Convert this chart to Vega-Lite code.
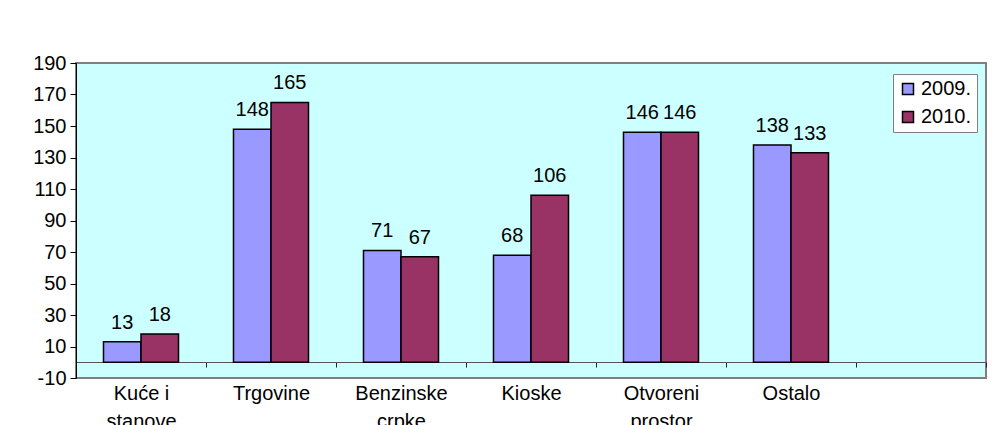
{
  "$schema": "https://vega.github.io/schema/vega-lite/v6.json",
  "autosize": {"type": "none"},
  "width": 910,
  "height": 315,
  "padding": {"left": 76, "top": 63, "right": 13, "bottom": 47},
  "background": "white",
  "config": {
    "font": "Liberation Sans",
    "view": {"fill": "#CCFFFF", "stroke": "#808080", "strokeWidth": 2},
    "axis": {"labelFont": "Liberation Sans", "labelColor": "black", "grid": false, "title": null}
  },
  "data": {
    "values": [
      {"cat": "Kuće i stanove", "year": "2009.", "value": 13},
      {"cat": "Kuće i stanove", "year": "2010.", "value": 18},
      {"cat": "Trgovine", "year": "2009.", "value": 148},
      {"cat": "Trgovine", "year": "2010.", "value": 165},
      {"cat": "Benzinske crpke", "year": "2009.", "value": 71},
      {"cat": "Benzinske crpke", "year": "2010.", "value": 67},
      {"cat": "Kioske", "year": "2009.", "value": 68},
      {"cat": "Kioske", "year": "2010.", "value": 106},
      {"cat": "Otvoreni prostor", "year": "2009.", "value": 146},
      {"cat": "Otvoreni prostor", "year": "2010.", "value": 146},
      {"cat": "Ostalo", "year": "2009.", "value": 138},
      {"cat": "Ostalo", "year": "2010.", "value": 133}
    ]
  },
  "encoding": {
    "x": {
      "field": "cat",
      "type": "nominal",
      "sort": null,
      "scale": {
        "domain": ["Kuće i stanove", "Trgovine", "Benzinske crpke", "Kioske", "Otvoreni prostor", "Ostalo", " "],
        "paddingInner": 0,
        "paddingOuter": 0
      },
      "axis": {
        "orient": "bottom",
        "offset": -16,
        "labelAngle": 0,
        "domainColor": "#555555",
        "domainWidth": 1,
        "tickBand": "extent",
        "tickColor": "#222222",
        "tickSize": 5,
        "tickWidth": 1,
        "labelFontSize": 20,
        "labelPadding": 16,
        "labelLineHeight": 28,
        "labelExpr": "datum.label == 'Kuće i stanove' ? ['Kuće i', 'stanove'] : split(datum.label, ' ')"
      }
    },
    "xOffset": {
      "field": "year",
      "type": "nominal",
      "scale": {"paddingOuter": 0.733, "paddingInner": 0}
    },
    "y": {
      "field": "value",
      "type": "quantitative",
      "scale": {"domain": [-10, 190], "nice": false, "zero": false},
      "axis": {
        "values": [-10, 10, 30, 50, 70, 90, 110, 130, 150, 170, 190],
        "labelExpr": "'' + datum.value",
        "domainColor": "black",
        "domainWidth": 1,
        "tickColor": "black",
        "tickSize": 6,
        "labelFontSize": 20,
        "labelPadding": 4
      }
    }
  },
  "layer": [
    {
      "mark": {"type": "bar", "stroke": "black", "strokeWidth": 1.5},
      "encoding": {
        "y2": {"datum": 0},
        "color": {
          "field": "year",
          "type": "nominal",
          "scale": {"domain": ["2009.", "2010."], "range": ["#9999FF", "#993366"]},
          "legend": {
            "title": null,
            "orient": "none",
            "legendX": 817,
            "legendY": 11,
            "fillColor": "white",
            "strokeColor": "#808080",
            "padding": 5,
            "symbolType": "square",
            "symbolSize": 121,
            "symbolStrokeColor": "black",
            "symbolStrokeWidth": 1.5,
            "symbolOpacity": 1,
            "labelFontSize": 20,
            "labelFont": "Liberation Sans",
            "labelColor": "black",
            "labelOffset": 3,
            "rowPadding": 8
          }
        }
      }
    },
    {
      "mark": {"type": "text", "fontSize": 20, "baseline": "alphabetic", "dy": -13, "color": "black", "font": "Liberation Sans"},
      "encoding": {
        "text": {"field": "value", "type": "quantitative"}
      }
    }
  ]
}
